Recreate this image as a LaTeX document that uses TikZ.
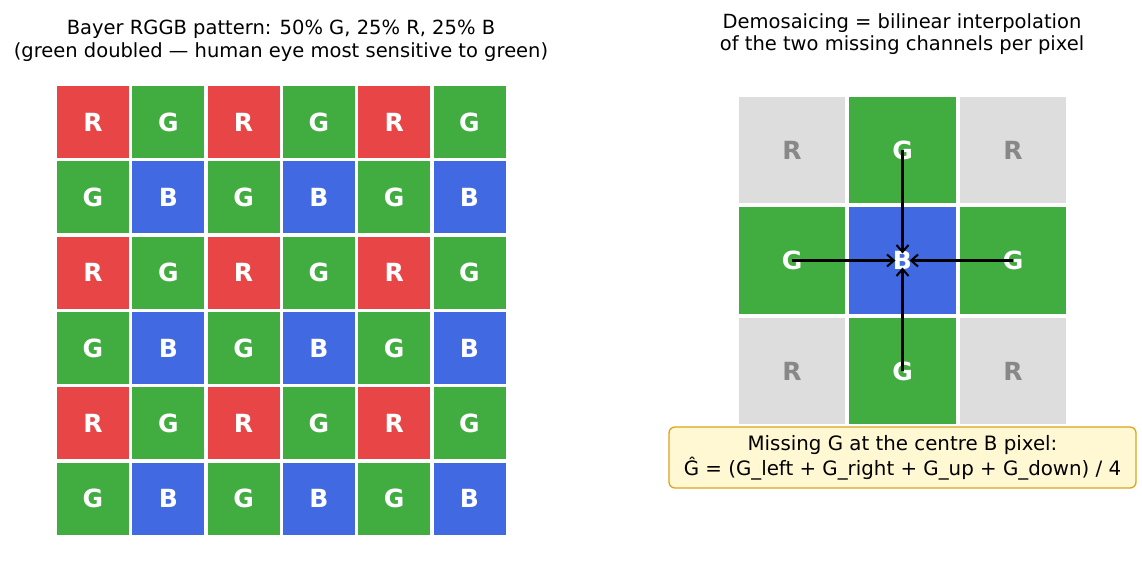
\documentclass[tikz,border=0pt]{standalone}
\usepackage{fontspec}
\setmainfont{DejaVu Sans}
\usetikzlibrary{arrows.meta}
\definecolor{cR}{RGB}{232,70,70}
\definecolor{cG}{RGB}{65,173,64}
\definecolor{cB}{RGB}{65,105,225}
\definecolor{cGray}{RGB}{221,221,221}
\definecolor{cGrayTxt}{RGB}{136,136,136}
\definecolor{capFill}{RGB}{255,248,210}
\definecolor{capDraw}{RGB}{218,165,32}
\tikzset{
  x=1pt, y=-1pt,
  cell/.style={minimum width=72pt, minimum height=72pt, inner sep=0pt, text=white,
    font=\fontsize{25}{25}\selectfont\bfseries},
  bigcell/.style={minimum width=106.5pt, minimum height=106.5pt, inner sep=0pt, text=white,
    font=\fontsize{25}{25}\selectfont\bfseries},
  ttl/.style={align=center, font=\fontsize{19.5}{22.5}\selectfont},
  arr/.style={-{Straight Barb[length=7pt,width=12pt,line width=2pt]}, line width=2.5pt, shorten >=7pt},
}
\begin{document}
\begin{tikzpicture}
\useasboundingbox (0,0) rectangle (1142,572);
\fill[white] (0,0) rectangle (1142,572);
\node[ttl] (tl) at (281,41) {Bayer RGGB pattern: 50\% G, 25\% R, 25\% B\\(green doubled — human eye most sensitive to green)};
\node[ttl] (tr) at (902,34) {Demosaicing = bilinear interpolation\\of the two missing channels per pixel};
% left grid
\foreach \r in {0,...,5}{
  \foreach \c in {0,...,5}{
    \pgfmathtruncatemacro{\rp}{mod(\r,2)}
    \pgfmathtruncatemacro{\cp}{mod(\c,2)}
    \ifnum\rp=0
      \ifnum\cp=0 \def\col{cR}\def\lab{R}\else \def\col{cG}\def\lab{G}\fi
    \else
      \ifnum\cp=0 \def\col{cG}\def\lab{G}\else \def\col{cB}\def\lab{B}\fi
    \fi
    \node[cell, fill=\col] (b-\r-\c) at ({93+75.3*\c},{122+75.3*\r}) {\lab};
  }
}
% right grid
\node[bigcell, fill=cGray, text=cGrayTxt] (tlc) at (792,150) {R};
\node[bigcell, fill=cG] (gu) at (902.5,150) {G};
\node[bigcell, fill=cGray, text=cGrayTxt] (trc) at (1013,150) {R};
\node[bigcell, fill=cG] (gl) at (792,260.5) {G};
\node[bigcell, fill=cB] (cb) at (902.5,260.5) {B};
\node[bigcell, fill=cG] (gr) at (1013,260.5) {G};
\node[bigcell, fill=cGray, text=cGrayTxt] (blc) at (792,371) {R};
\node[bigcell, fill=cG] (gd) at (902.5,371) {G};
\node[bigcell, fill=cGray, text=cGrayTxt] (brc) at (1013,371) {R};
\draw[arr] (gu.center) -- (cb.center);
\draw[arr] (gl.center) -- (cb.center);
\draw[arr] (gr.center) -- (cb.center);
\draw[arr] (gd.center) -- (cb.center);
% caption
\node[draw=capDraw, fill=capFill, line width=1.3pt, rounded corners=6pt, align=center,
  minimum width=467pt, minimum height=61pt, inner sep=0pt,
  font=\fontsize{19.8}{25}\selectfont] (cap) at (902.5,457.5)
  {Missing G at the centre B pixel:\\Ĝ = (G\_left + G\_right + G\_up + G\_down) / 4};
\end{tikzpicture}
\end{document}
